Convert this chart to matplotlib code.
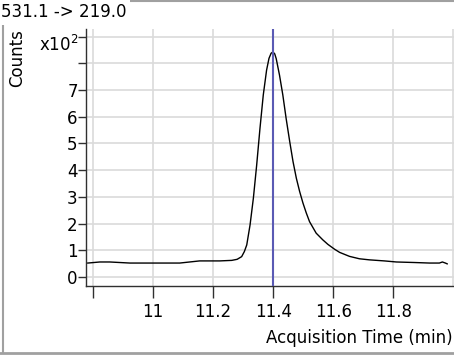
import matplotlib
matplotlib.use("Agg")
import matplotlib.pyplot as plt
from matplotlib.lines import Line2D

# Data (acquisition time in min, counts)
time_min = [10.783, 10.823, 10.856, 10.923, 11.023, 11.089, 11.122, 11.155, 11.222, 11.262,
            11.280, 11.295, 11.304, 11.312, 11.323, 11.334, 11.345, 11.356, 11.367, 11.378,
            11.386, 11.393, 11.399, 11.405, 11.410, 11.421, 11.432, 11.443, 11.455, 11.466,
            11.477, 11.488, 11.499, 11.510, 11.521, 11.543, 11.565, 11.582, 11.604, 11.621,
            11.654, 11.687, 11.720, 11.770, 11.810, 11.870, 11.920, 11.953, 11.963, 11.973,
            11.979]
counts = [52, 56, 56, 52, 52, 52, 56, 60, 60, 62,
          66, 76, 95, 120, 195, 295, 419, 557, 682, 775,
          819, 838, 843, 836, 818, 756, 682, 594, 507, 432,
          370, 320, 277, 240, 207, 164, 139, 122, 104, 92,
          77, 68, 64, 60, 56, 54, 52, 52, 56, 52,
          49]
marker_time = 11.4
title = "531.1 -> 219.0"
x_ticks = [10.8, 11.0, 11.2, 11.4, 11.6, 11.8]
x_tick_labels = ["", "11", "11.2", "11.4", "11.6", "11.8"]
y_ticks = [0, 100, 200, 300, 400, 500, 600, 700, 800, 900]
y_tick_labels = ["0", "1", "2", "3", "4", "5", "6", "7", "", ""]

W, H = 454, 355
fig = plt.figure(figsize=(W / 100, H / 100), dpi=100)
fig.patch.set_facecolor("white")

def fx(px):
    return px / W

def fy(py):
    return 1 - py / H

ax_left, ax_right, ax_top, ax_bottom = 86, 454, 29, 286
ax = fig.add_axes([fx(ax_left), fy(ax_bottom), fx(ax_right - ax_left), (ax_bottom - ax_top) / H])

grid_c = "#dadada"
for t in x_ticks + [12.0]:
    ax.axvline(t, color=grid_c, lw=1.2, zorder=0)
for v in y_ticks:
    ax.axhline(v, color=grid_c, lw=1.2, zorder=0)

ax.plot(time_min, counts, color="black", lw=1.0, zorder=3)
ax.axvline(marker_time, color="#5a5ab4", lw=1.5, zorder=4)

ax.set_xlim(10.777, 12.0017)
ax.set_ylim(-34, 929)

ax.set_xticks(x_ticks)
ax.set_xticklabels(x_tick_labels)
ax.set_yticks(y_ticks)
ax.set_yticklabels(y_tick_labels)

for s in ["top", "right"]:
    ax.spines[s].set_visible(False)
for s in ["left", "bottom"]:
    ax.spines[s].set_color("#303030")
    ax.spines[s].set_linewidth(1.0)

fs = 12
ax.tick_params(axis="x", direction="out", length=8.5, width=1.0, color="#303030",
               labelsize=fs, pad=4, labelcolor="black")
ax.tick_params(axis="y", direction="out", length=5.5, width=1.0, color="#303030",
               labelsize=fs, pad=0.5, labelcolor="black")

# Exponent label and axis titles
fig.text(fx(78), fy(45), "x10$^2$", ha="right", va="center", fontsize=fs)
fig.text(fx(17), fy(58), "Counts", ha="center", va="center", rotation=90, fontsize=fs)
fig.text(fx(453), fy(338), "Acquisition Time (min)", ha="right", va="center", fontsize=fs)

# Frame
frame_c = "#a0a0a0"
fig.add_artist(Line2D([fx(2.5), fx(2.5)], [fy(0), fy(352)], color=frame_c, lw=1.5))
fig.add_artist(Line2D([fx(0), fx(454)], [fy(1), fy(1)], color=frame_c, lw=1.5))
fig.add_artist(Line2D([fx(0), fx(454)], [fy(352.5), fy(352.5)], color=frame_c, lw=2.0))

fig.text(fx(1), fy(12), title, ha="left", va="center", fontsize=fs,
         bbox=dict(facecolor="white", edgecolor="none", pad=2.5), zorder=10)

fig.savefig("out.png", dpi=100, facecolor="white")
